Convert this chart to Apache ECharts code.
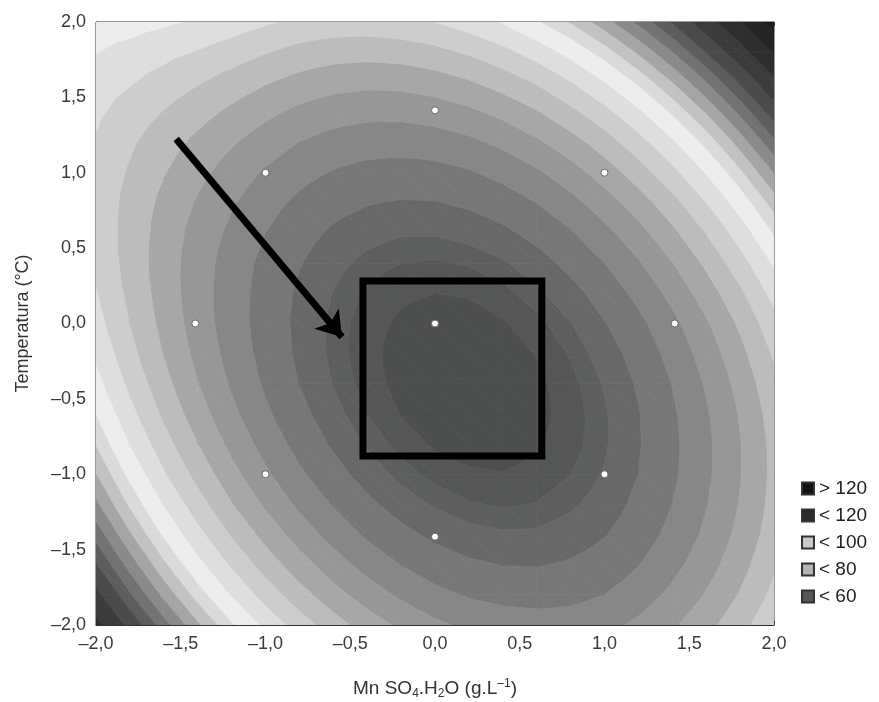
<!DOCTYPE html>
<html><head><meta charset="utf-8">
<script src="https://cdn.jsdelivr.net/npm/echarts@6/dist/echarts.min.js"></script>
<style>html,body{margin:0;padding:0;background:#fff}#c{width:879px;height:702px}</style>
</head><body><div id="c"></div>
<script>
// Grid nodes (Mn SO4.H2O and Temperatura, coded units)
var xNodes = [-2,-1.8,-1.6,-1.4,-1.2,-1,-0.8,-0.6,-0.4,-0.2,0,0.2,0.4,0.6,0.8,1,1.2,1.4,1.6,1.8,2];
var yNodes = [-2,-1.8,-1.6,-1.4,-1.2,-1,-0.8,-0.6,-0.4,-0.2,0,0.2,0.4,0.6,0.8,1,1.2,1.4,1.6,1.8,2];
// Response values, one row per Temperatura node
var zRowYm20 = [126.3,118.5,111.2,104.5,98.4,92.9,88.0,83.8,80.1,77.2,74.8,73.2,72.1,71.7,71.9,72.8,74.8,77.4,80.7,84.6,89.1];
var zRowYm18 = [121.1,113.3,106.1,99.6,93.7,88.3,83.6,79.5,76.1,73.3,71.1,69.6,68.8,68.5,68.9,70.0,72.1,74.9,78.3,82.3,87.0];
var zRowYm16 = [116.2,108.6,101.6,95.2,89.4,84.2,79.7,75.8,72.5,69.9,67.9,66.6,65.9,65.8,66.4,67.6,69.9,72.8,76.3,80.5,85.3];
var zRowYm14 = [111.7,104.3,97.4,91.2,85.6,80.6,76.2,72.5,69.4,67.0,65.2,64.0,63.5,63.6,64.4,65.8,68.1,71.1,74.8,79.1,84.0];
var zRowYm12 = [107.6,100.4,93.7,87.7,82.2,77.4,73.2,69.7,66.8,64.5,62.9,61.9,61.5,61.8,62.8,64.3,66.9,70.0,73.8,78.2,83.3];
var zRowYm10 = [104.0,96.9,90.4,84.6,79.3,74.7,70.7,67.3,64.6,62.5,61.1,60.3,60.1,60.6,61.7,63.4,66.0,69.3,73.2,77.8,83.0];
var zRowYm08 = [100.7,93.8,87.6,82.0,76.9,72.5,68.6,65.5,62.9,61.0,59.7,59.1,59.1,59.7,61.0,62.9,65.7,69.1,73.1,77.8,83.1];
var zRowYm06 = [97.8,91.2,85.2,79.8,75.0,70.7,67.1,64.0,61.7,59.9,58.8,58.4,58.6,59.4,60.8,62.9,65.8,69.4,73.5,78.3,83.8];
var zRowYm04 = [95.3,89.0,83.3,78.1,73.5,69.4,65.9,63.1,60.9,59.3,58.4,58.1,58.5,59.5,61.1,63.4,66.4,70.1,74.4,79.3,84.9];
var zRowYm02 = [93.2,87.2,81.8,76.9,72.5,68.6,65.3,62.6,60.6,59.2,58.5,58.4,58.9,60.1,61.9,64.3,67.5,71.3,75.7,80.8,86.5];
var zRowY00  = [91.5,85.9,80.8,76.1,71.9,68.3,65.1,62.6,60.8,59.6,59.0,59.1,59.8,61.1,63.1,65.8,69.0,72.9,77.5,82.7,88.5];
var zRowYp02 = [90.2,85.0,80.2,75.8,71.9,68.4,65.4,63.1,61.4,60.4,60.0,60.2,61.1,62.7,64.8,67.6,71.1,75.2,79.9,85.2,91.3];
var zRowYp04 = [89.3,84.4,80.0,75.9,72.2,68.9,66.2,64.0,62.5,61.7,61.5,61.9,62.9,64.6,67.0,70.0,73.6,77.9,82.8,88.3,94.5];
var zRowYp06 = [88.8,84.4,80.3,76.5,73.1,70.0,67.4,65.4,64.1,63.4,63.4,64.0,65.2,67.1,69.6,72.8,76.6,81.0,86.1,91.8,98.2];
var zRowYp08 = [88.7,84.7,81.0,77.6,74.4,71.5,69.1,67.3,66.2,65.7,65.8,66.6,68.0,70.0,72.7,76.1,80.0,84.6,89.9,95.8,102.3];
var zRowYp10 = [89.0,85.5,82.2,79.1,76.2,73.5,71.3,69.7,68.7,68.4,68.7,69.6,71.2,73.4,76.3,79.8,84.0,88.8,94.2,100.3,107.0];
var zRowYp12 = [89.6,86.6,83.8,81.0,78.4,76.0,73.9,72.5,71.7,71.5,72.0,73.1,74.9,77.3,80.3,84.0,88.4,93.3,98.9,105.2,112.1];
var zRowYp14 = [90.7,88.2,85.8,83.5,81.1,78.9,77.0,75.7,75.1,75.1,75.8,77.1,79.1,81.6,84.9,88.7,93.2,98.4,104.1,110.6,117.6];
var zRowYp16 = [92.2,90.3,88.3,86.3,84.3,82.3,80.6,79.5,79.0,79.2,80.1,81.6,83.7,86.4,89.8,93.9,98.6,103.9,109.8,116.4,123.7];
var zRowYp18 = [94.1,92.7,91.2,89.7,88.0,86.2,84.6,83.7,83.4,83.8,84.8,86.5,88.8,91.7,95.3,99.5,104.4,109.8,116.0,122.8,130.2];
var zRowYp20 = [96.3,95.6,94.6,93.5,92.1,90.5,89.1,88.4,88.3,88.9,90.0,91.9,94.3,97.5,101.2,105.6,110.6,116.3,122.6,129.6,137.1];
var zRows = [zRowYm20,zRowYm18,zRowYm16,zRowYm14,zRowYm12,zRowYm10,zRowYm08,zRowYm06,zRowYm04,zRowYm02,zRowY00,
             zRowYp02,zRowYp04,zRowYp06,zRowYp08,zRowYp10,zRowYp12,zRowYp14,zRowYp16,zRowYp18,zRowYp20];
// Contour levels
var levels = [60,61.7,63.2,66,70,74,78,82,86,90,94,98,101,104,107,110,113,116,120,125,130,135];
// Experimental design points
var designX = [0,1,-1,1,-1,1.414,-1.414,0,0];
var designY = [0,1,1,-1,-1,0,0,1.414,-1.414];
// Highlighted optimum region and arrow (data coordinates)
var boxX = [-0.425,0.63,0.63,-0.425,-0.425];
var boxY = [0.282,0.282,-0.879,-0.879,0.282];
var arrowX = [-1.527,-0.549];
var arrowY = [1.224,-0.089];
// Legend
var legendNames = ['> 120','< 120','< 100','< 80','< 60'];

var bandColors = ['#4d4e4e','#555756','#5d5f5e','#686868','#777777','#878787','#979797','#a7a7a7','#bcbcbc','#cdcdcd','#dedede','#ededed',
  '#dadada','#c2c2c2','#a5a5a5','#8a8a8a','#727272','#5d5d5d','#4a4a4a','#3b3b3b','#2e2e2e','#242424','#1a1a1a'];
var legendColors = ['#141414','#2b2b2b','#cacaca','#b4b4b4','#555555'];
var font = 'Liberation Sans';

var cells = [];
for (var j = 0; j < yNodes.length - 1; j++) {
  for (var i = 0; i < xNodes.length - 1; i++) {
    cells.push([xNodes[i], yNodes[j], xNodes[i+1], yNodes[j+1],
      zRows[j][i], zRows[j][i+1], zRows[j+1][i+1], zRows[j+1][i]]);
  }
}
function bandOf(v){ var b = 0; while (b < levels.length && v >= levels[b]) b++; return b; }
function clipPoly(poly, lev, keepAbove){
  var out = [];
  for (var k = 0; k < poly.length; k++) {
    var a = poly[k], b = poly[(k+1) % poly.length];
    var ina = keepAbove ? a[2] >= lev : a[2] <= lev;
    var inb = keepAbove ? b[2] >= lev : b[2] <= lev;
    if (ina) out.push(a);
    if (ina !== inb) {
      var t = (lev - a[2]) / (b[2] - a[2]);
      out.push([a[0] + t*(b[0]-a[0]), a[1] + t*(b[1]-a[1]), lev]);
    }
  }
  return out;
}
function renderCell(params, api){
  var x0 = api.value(0), y0 = api.value(1), x1 = api.value(2), y1 = api.value(3);
  var z00 = api.value(4), z10 = api.value(5), z11 = api.value(6), z01 = api.value(7);
  var tris = [[[x0,y0,z00],[x1,y0,z10],[x0,y1,z01]], [[x1,y0,z10],[x1,y1,z11],[x0,y1,z01]]];
  var children = [];
  tris.forEach(function(tri){
    var zs = tri.map(function(p){return p[2];});
    var b0 = bandOf(Math.min.apply(null, zs)), b1 = bandOf(Math.max.apply(null, zs));
    for (var b = b0; b <= b1; b++) {
      var poly = tri;
      if (b > 0) poly = clipPoly(poly, levels[b-1], true);
      if (b < levels.length && poly.length) poly = clipPoly(poly, levels[b], false);
      if (poly.length < 3) continue;
      var pts = poly.map(function(p){ return api.coord([p[0], p[1]]); });
      children.push({type:'polygon', shape:{points:pts}, style:{fill:bandColors[b], stroke:bandColors[b], lineWidth:0.8}});
    }
  });
  return {type:'group', children:children};
}
var fmt = function(v){ return v.toFixed(1).replace('.', ',').replace('-', '\u2013'); };
var series = [
  {type:'custom', data:cells, encode:{x:[0,2], y:[1,3]}, clip:true, silent:true, z:1, renderItem:renderCell},
  {type:'line', data:boxX.map(function(v,i){return [v, boxY[i]];}), symbol:'none', silent:true, z:5,
    lineStyle:{color:'#000', width:7, join:'miter', cap:'square'}},
  {type:'lines', coordinateSystem:'cartesian2d', silent:true, z:5, symbol:['none','arrow'], symbolSize:24,
    lineStyle:{color:'#000', width:7, opacity:1, curveness:0},
    data:[{coords:[[arrowX[0], arrowY[0]], [arrowX[1], arrowY[1]]]}]},
  {type:'scatter', data:designX.map(function(v,i){return [v, designY[i]];}), symbol:'circle', symbolSize:7, silent:true, z:6,
    itemStyle:{color:'#ffffff', borderColor:'#6a6a6a', borderWidth:1, opacity:1}}
];
legendNames.forEach(function(n, i){
  series.push({type:'scatter', name:n, data:[], itemStyle:{color:legendColors[i], borderColor:'#333', borderWidth:1, opacity:1}});
});
var chart = echarts.init(document.getElementById('c'), null, {renderer:'canvas'});
chart.setOption({
  animation:false,
  grid:{left:96, top:22, width:678, height:603, show:true, borderColor:'#333', borderWidth:1, backgroundColor:'transparent',
    containLabel:false, outerBoundsMode:'none'},
  xAxis:[
    {type:'value', min:-2, max:2, interval:0.5, position:'bottom',
      name:'{a|Mn SO}{s|4}{a|.H}{s|2}{a|O (g.L}{p|\u20131}{a|)}', nameLocation:'middle', nameGap:53,
      nameTextStyle:{rich:{
        a:{fontFamily:font, fontSize:19, color:'#333'},
        s:{fontFamily:font, fontSize:12, color:'#333', padding:[10,0,0,0]},
        p:{fontFamily:font, fontSize:12, color:'#333', padding:[0,0,10,0]}}},
      axisLine:{show:true, onZero:false, lineStyle:{color:'#333'}},
      axisTick:{inside:true, length:4, lineStyle:{color:'#333'}}, splitLine:{show:false},
      axisLabel:{formatter:fmt, fontFamily:font, fontSize:18, color:'#3a3a3a', margin:10}},
    {type:'value', min:-2, max:2, interval:0.5, position:'top',
      axisLine:{show:false, onZero:false}, axisTick:{inside:true, length:4, lineStyle:{color:'#333'}},
      axisLabel:{show:false}, splitLine:{show:false}}
  ],
  yAxis:[
    {type:'value', min:-2, max:2, interval:0.5, position:'left',
      name:'Temperatura (\u00b0C)', nameLocation:'middle', nameGap:64,
      nameTextStyle:{fontFamily:font, fontSize:18, color:'#333'},
      axisLine:{show:true, onZero:false, lineStyle:{color:'#333'}},
      axisTick:{inside:true, length:4, lineStyle:{color:'#333'}}, splitLine:{show:false},
      axisLabel:{formatter:fmt, fontFamily:font, fontSize:18, color:'#3a3a3a', margin:10}},
    {type:'value', min:-2, max:2, interval:0.5, position:'right',
      axisLine:{show:false, onZero:false}, axisTick:{inside:true, length:4, lineStyle:{color:'#333'}},
      axisLabel:{show:false}, splitLine:{show:false}}
  ],
  legend:{data:legendNames, orient:'vertical', left:796, top:474, itemWidth:12, itemHeight:12, itemGap:8, icon:'rect',
    selectedMode:false, textStyle:{fontFamily:font, fontSize:19, color:'#222'}},
  series:series
});
</script></body></html>
